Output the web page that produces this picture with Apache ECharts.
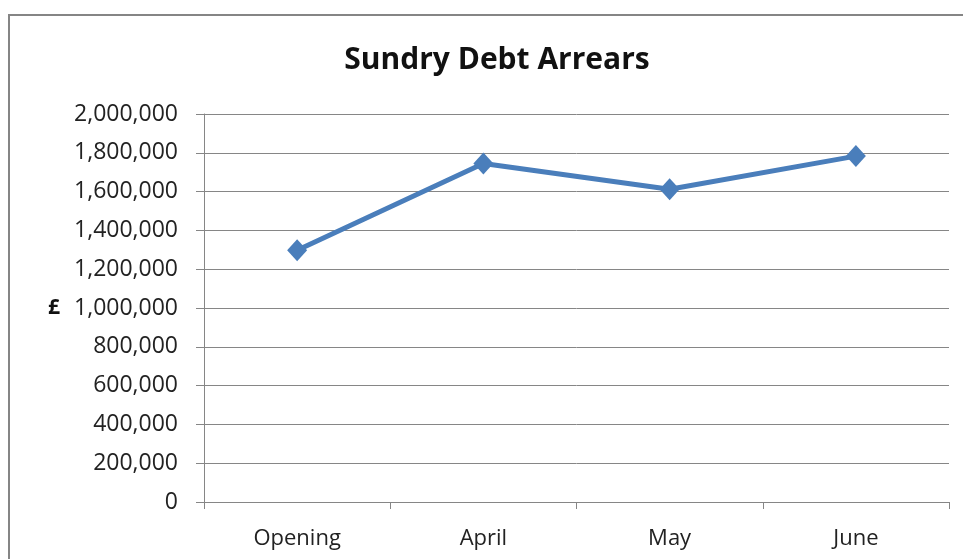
<!DOCTYPE html>
<html>
<head>
<meta charset="utf-8">
<script src="https://cdn.jsdelivr.net/npm/echarts@6/dist/echarts.min.js"></script>
<style>
  html, body { margin: 0; padding: 0; background: #fff; }
  #chart { width: 963px; height: 559px; }
</style>
</head>
<body>
<div id="chart"></div>
<script>
// categories and values
var categories = ['Opening', 'April', 'May', 'June'];
var arrears = [1298000, 1745000, 1612000, 1783000];
var yTicks = [0, 200000, 400000, 600000, 800000, 1000000, 1200000, 1400000, 1600000, 1800000, 2000000];

var chart = echarts.init(document.getElementById('chart'));
var font = 'Open Sans, Noto Sans, sans-serif';

var option = {
  animation: false,
  title: {
    text: 'Sundry Debt Arrears',
    left: 492,
    textAlign: 'center',
    top: 40,
    textStyle: { fontFamily: font, fontSize: 30, fontWeight: 'bold', color: '#111' }
  },
  graphic: [{
    type: 'rect',
    shape: { x: 9, y: 15, width: 1000, height: 600 },
    style: { fill: 'none', stroke: '#858585', lineWidth: 2 },
    silent: true
  }],
  grid: { left: 204, right: 14, top: 114, bottom: 57 },
  xAxis: {
    type: 'category',
    data: categories,
    boundaryGap: true,
    axisLine: { lineStyle: { color: '#868686', width: 1 } },
    axisTick: { show: true, length: 7, lineStyle: { color: '#868686' } },
    axisLabel: { margin: 26, fontFamily: font, fontSize: 22, color: '#222' }
  },
  yAxis: {
    type: 'value',
    min: yTicks[0],
    max: yTicks[yTicks.length - 1],
    interval: yTicks[1] - yTicks[0],
    name: '£',
    nameLocation: 'middle',
    nameRotate: 0,
    nameGap: 144,
    nameTextStyle: { fontFamily: font, fontSize: 21, fontWeight: 'bold', color: '#111', align: 'right' },
    axisLine: { show: true, lineStyle: { color: '#868686', width: 1 } },
    axisTick: { show: true, length: 8, lineStyle: { color: '#868686' } },
    splitLine: { lineStyle: { color: '#868686', width: 1 } },
    axisLabel: {
      margin: 26, fontFamily: font, fontSize: 23, color: '#222',
      formatter: function (v) { return v.toLocaleString('en-GB'); }
    }
  },
  series: [{
    type: 'line',
    data: arrears,
    symbol: 'diamond',
    symbolSize: [20, 22],
    lineStyle: { color: '#4a7ebb', width: 5 },
    itemStyle: { color: '#4a7ebb' }
  }]
};

chart.setOption(option);
</script>
</body>
</html>
